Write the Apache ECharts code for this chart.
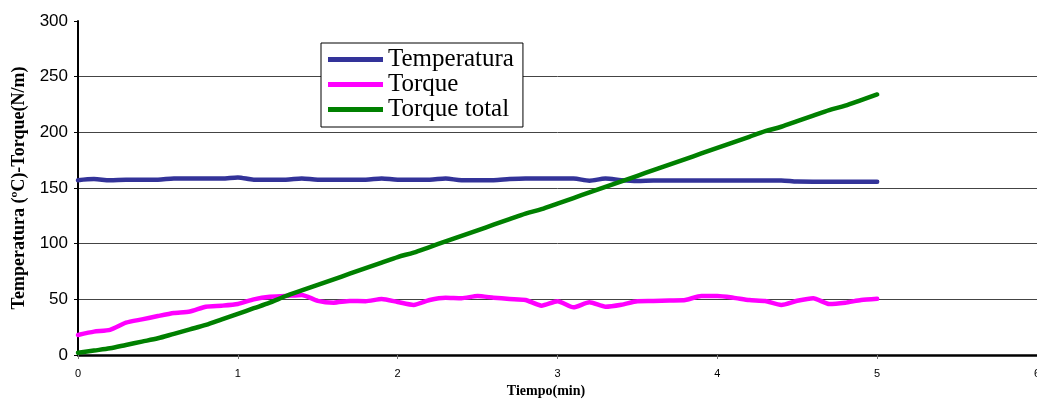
<!DOCTYPE html>
<html>
<head>
<meta charset="utf-8">
<script src="https://cdn.jsdelivr.net/npm/echarts@6/dist/echarts.min.js"></script>
<style>html,body{margin:0;padding:0;background:#fff}#c{width:1037px;height:405px}</style>
</head>
<body>
<div id="c"></div>
<script>
const tiempo = [0,0.1,0.2,0.3,0.4,0.5,0.6,0.7,0.8,0.9,1.0,1.1,1.2,1.3,1.4,1.5,1.6,1.7,1.8,1.9,2.0,2.1,2.2,2.3,2.4,2.5,2.6,2.7,2.8,2.9,3.0,3.1,3.2,3.3,3.4,3.5,3.6,3.7,3.8,3.9,4.0,4.1,4.2,4.3,4.4,4.5,4.6,4.7,4.8,4.9,5.0];
const temperatura = [157,158,157,157.5,157.5,157.5,158.5,158.5,158.5,158.5,159.5,157.5,157.5,157.5,158.5,157.5,157.5,157.5,157.5,158.5,157.5,157.5,157.5,158.5,157,157,157,158,158.5,158.5,158.5,158.5,156.5,158.5,157,156.3,156.8,156.8,156.8,156.8,156.8,156.8,156.8,156.8,156.8,155.8,155.7,155.7,155.7,155.7,155.7];
const torque = [18,21,22.5,29,32,35,37.7,39,43.4,44.3,45.8,50,52.4,53,54,48.6,47,48.5,48.3,50.3,47.6,45,49.4,51.5,51,53,51.5,50.3,49.4,44.3,48.3,42.8,47.3,43.4,45.2,48.3,48.5,49,49.4,53,53,51.5,49.4,48.5,45,48.7,51,45.8,47,49.4,50.5];
const torqueTotal = [2,4,6,9,12,15,19,23,27,32,37,42,47,53,58,63,68,73,78,83,88,92,97,102,107,112,117,122,127,131,136,141,146,151,156,161,166,171,176,181,186,191,196,201,205,210,215,220,224,229,234];
const nombres = ['Temperatura','Torque','Torque total'];
const colores = ['#333399','#FF00FF','#008000'];

const pair = arr => tiempo.map((t,i)=>[t,arr[i]]);
const chart = echarts.init(document.getElementById('c'), null, {renderer:'canvas'});
const mk = (name, data, color, smooth) => ({
  name, type:'line', data: pair(data), showSymbol:false, symbol:'none',
  lineStyle:{color, width:4.5, cap:'round', join:'round'}, itemStyle:{color},
  smooth, animation:false
});
chart.setOption({
  animation:false,
  grid:{left:78, right:0, top:21, bottom:50, containLabel:false, outerBoundsMode:'none'},
  legend:{
    orient:'vertical', left:321, top:43,
    data: nombres, icon:'rect', itemWidth:55, itemHeight:5, itemGap:0,
    backgroundColor:'#fff', borderColor:'#000', borderWidth:1,
    padding:[4,9,5,7],
    textStyle:{fontFamily:'Liberation Serif', fontSize:25, color:'#000', lineHeight:22}
  },
  xAxis:{
    type:'value', min:0, max:6, interval:1,
    name:'Tiempo(min)', nameLocation:'middle', nameGap:29,
    nameTextStyle:{fontFamily:'Liberation Serif', fontWeight:'bold', fontSize:14, color:'#000', padding:[0,23,0,0]},
    axisLine:{show:true, onZero:false, lineStyle:{color:'#000', width:2.5}},
    axisTick:{show:true, length:4, lineStyle:{color:'#777'}},
    axisLabel:{fontFamily:'Liberation Sans', fontSize:11, color:'#000', margin:13, showMaxLabel:true, hideOverlap:false},
    splitLine:{show:false}
  },
  yAxis:{
    type:'value', min:0, max:300, interval:50,
    name:'Temperatura (ºC)-Torque(N/m)', nameLocation:'middle', nameGap:50,
    nameTextStyle:{fontFamily:'Liberation Serif', fontWeight:'bold', fontSize:18, color:'#000'},
    axisLine:{show:true, lineStyle:{color:'#000', width:2}},
    axisTick:{show:true, length:4, lineStyle:{color:'#000'}},
    axisLabel:{fontFamily:'Liberation Sans', fontSize:17, color:'#000', margin:10},
    splitLine:{show:true, showMaxLine:false, lineStyle:{color:'#444', width:1}}
  },
  series:[
    mk(nombres[0], temperatura, colores[0], 0.3),
    mk(nombres[1], torque, colores[1], 0.2),
    mk(nombres[2], torqueTotal, colores[2], 0.3)
  ]
});
</script>
</body>
</html>
